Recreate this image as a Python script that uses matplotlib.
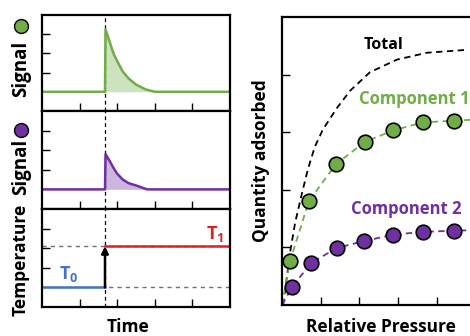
import matplotlib
matplotlib.use("Agg")
import matplotlib.pyplot as plt

plt.rcParams['font.family'] = ['Open Sans', 'DejaVu Sans']
plt.rcParams['font.weight'] = 'bold'
plt.rcParams['mathtext.fontset'] = 'custom'
plt.rcParams['mathtext.bf'] = 'Open Sans:bold'
plt.rcParams['mathtext.rm'] = 'Open Sans:bold'

green = '#70ad47'
purple = '#7030a0'
blue = '#4472c4'
red = '#e02020'

# time axis (fraction of the window), step at t_step
t_step = 0.335
sig1_t = [0.0, 0.335, 0.338, 0.36, 0.38, 0.40, 0.43, 0.46, 0.50, 0.55, 0.60, 1.0]
sig1_y = [0.0, 0.0, 3.25, 2.6, 2.0, 1.6, 1.05, 0.7, 0.38, 0.13, 0.0, 0.0]
sig2_t = [0.0, 0.335, 0.338, 0.36, 0.38, 0.40, 0.43, 0.46, 0.50, 0.56, 1.0]
sig2_y = [0.0, 0.0, 1.8, 1.45, 1.1, 0.8, 0.5, 0.32, 0.2, 0.0, 0.0]
T0, T1 = 0.0, 2.1

# isotherms
p1 = [0.0, 0.21, 0.70, 1.40, 2.14, 2.87, 3.64, 4.44]
q1 = [0.0, 0.77, 1.81, 2.45, 2.83, 3.03, 3.17, 3.20]
p2 = [0.0, 0.26, 0.75, 1.42, 2.12, 2.87, 3.64, 4.44]
q2 = [0.0, 0.31, 0.73, 0.99, 1.11, 1.22, 1.27, 1.29]
p_line_end = 5.0
q1_end, q2_end = 3.22, 1.30
p_tot = [0.03, 0.21, 0.34, 0.52, 0.67, 0.85, 1.06, 1.42, 1.76, 2.27, 2.97, 3.75, 4.78]
q_tot = [0.0, 0.92, 1.43, 1.95, 2.36, 2.75, 3.05, 3.42, 3.72, 4.04, 4.26, 4.38, 4.43]

fig = plt.figure(figsize=(4.70, 3.36), dpi=100)
W, H = 470, 336


def px_axes(x0, y0, x1, y1):
    return fig.add_axes([x0 / W, 1 - y1 / H, (x1 - x0) / W, (y1 - y0) / H])


def style(ax, yt, xt):
    for s in ax.spines.values():
        s.set_linewidth(1.6)
    ax.set_yticks(yt)
    ax.set_xticks(xt)
    ax.tick_params(direction='in', length=6, width=1, labelleft=False, labelbottom=False)


ax1 = px_axes(42, 15, 230, 111)
ax2 = px_axes(42, 111, 230, 209)
ax3 = px_axes(42, 209, 230, 307)

for ax in (ax1, ax2, ax3):
    ax.set_xlim(0, 1)
    ax.set_ylim(-1, 4)
    style(ax, [1, 2, 3], [0.2, 0.4, 0.6, 0.8])
    ax.axvline(t_step, color='k', ls=(0, (3, 2.5)), lw=0.9, zorder=1)

ax1.fill_between(sig1_t, sig1_y, 0, color=green, alpha=0.35, lw=0)
ax1.plot(sig1_t, sig1_y, color=green, lw=1.8)
ax2.fill_between(sig2_t, sig2_y, 0, color=purple, alpha=0.35, lw=0)
ax2.plot(sig2_t, sig2_y, color=purple, lw=1.8)

ax3.axhline(T0, color='#707070', ls=(0, (3, 3)), lw=1)
ax3.axhline(T1, color='#707070', ls=(0, (3, 3)), lw=1)
ax3.plot([0, t_step], [T0, T0], color=blue, lw=1.8)
ax3.plot([t_step, 1], [T1, T1], color=red, lw=1.8)
ax3.annotate('', xy=(t_step, T1), xytext=(t_step, T0),
             arrowprops=dict(arrowstyle='-|>', color='k', lw=1.8, mutation_scale=10,
                             shrinkA=0, shrinkB=0))
ax3.text(0.14, 0.7, r'T$_\mathbf{0}$', color=blue, fontsize=13, ha='center', va='center')
ax3.text(0.92, 2.75, r'T$_\mathbf{1}$', color=red, fontsize=13, ha='center', va='center')

# left labels
fs = 12.5
fig.text(21 / W, 1 - 69 / H, 'Signal', rotation=90, fontsize=13.5, ha='center', va='center')
fig.text(21 / W, 1 - 167 / H, 'Signal', rotation=90, fontsize=13.5, ha='center', va='center')
fig.lines.append(plt.Line2D([21 / W], [1 - 26 / H], marker='o', ms=10, mfc=green, mec='k',
                            mew=1, transform=fig.transFigure))
fig.lines.append(plt.Line2D([21 / W], [1 - 130 / H], marker='o', ms=10, mfc=purple, mec='k',
                            mew=1, transform=fig.transFigure))
fig.text(21 / W, 1 - 260 / H, 'Temperature', rotation=90, fontsize=12.5, ha='center', va='center')
fig.text(128 / W, 1 - 327 / H, 'Time', fontsize=fs, ha='center', va='center')

# right panel
ax4 = px_axes(282, 17, 475.5, 305)
ax4.set_xlim(0, 5)
ax4.set_ylim(0, 5)
style(ax4, [1, 2, 3, 4], [1, 2, 3, 4])

ax4.plot(p_tot, q_tot, color='k', ls=(0, (3.5, 2.5)), lw=1.3)
ax4.plot(p1 + [p_line_end], q1 + [q1_end], color=green, ls=(0, (3.5, 2.5)), lw=1.3)
ax4.plot(p2 + [p_line_end], q2 + [q2_end], color=purple, ls=(0, (3.5, 2.5)), lw=1.3)
ax4.plot(p1[1:], q1[1:], 'o', ms=10.5, mfc=green, mec='k', mew=1.2, zorder=5)
ax4.plot(p2[1:], q2[1:], 'o', ms=10.5, mfc=purple, mec='k', mew=1.2, zorder=5)

ax4.text(2.62, 4.52, 'Total', color='k', fontsize=11.5, ha='center', va='center')
ax4.text(3.41, 3.57, 'Component 1', color=green, fontsize=12, ha='center', va='center')
ax4.text(3.21, 1.66, 'Component 2', color=purple, fontsize=12, ha='center', va='center')

fig.text(261 / W, 1 - 161 / H, 'Quantity adsorbed', rotation=90, fontsize=fs, ha='center', va='center')
fig.text(381 / W, 1 - 327 / H, 'Relative Pressure', fontsize=fs, ha='center', va='center')

fig.savefig('out.png', dpi=100)
